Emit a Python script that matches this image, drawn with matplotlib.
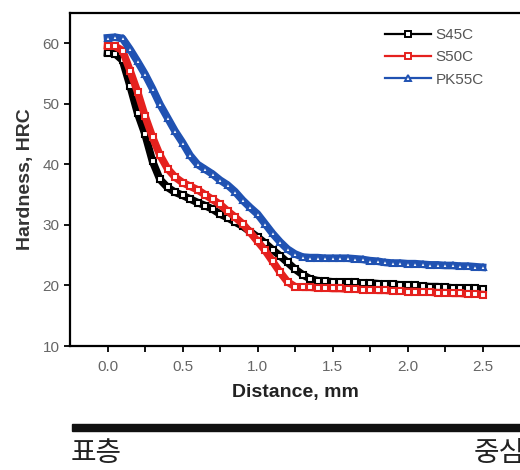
import matplotlib
matplotlib.use("Agg")
import matplotlib.pyplot as plt
from matplotlib.patches import Rectangle

plt.rcParams['font.family'] = ['Liberation Sans', 'DejaVu Sans']

# distance from surface, mm
distance = [0.00, 0.05, 0.10, 0.15, 0.20, 0.25, 0.30, 0.35, 0.40, 0.45,
            0.50, 0.55, 0.60, 0.65, 0.70, 0.75, 0.80, 0.85, 0.90, 0.95,
            1.00, 1.05, 1.10, 1.15, 1.20, 1.25, 1.30, 1.35, 1.40, 1.45,
            1.50, 1.55, 1.60, 1.65, 1.70, 1.75, 1.80, 1.85, 1.90, 1.95,
            2.00, 2.05, 2.10, 2.15, 2.20, 2.25, 2.30, 2.35, 2.40, 2.45, 2.50]

s45c = [58.4, 58.3, 57.2, 53.0, 48.5, 45.0, 40.5, 37.5, 36.2, 35.4,
        34.9, 34.3, 33.7, 33.2, 32.6, 31.8, 31.2, 30.5, 29.8, 28.9,
        28.0, 27.0, 25.9, 24.9, 23.8, 22.7, 21.8, 21.1, 20.8, 20.7,
        20.6, 20.6, 20.5, 20.5, 20.4, 20.4, 20.3, 20.2, 20.2, 20.1,
        20.0, 20.0, 19.9, 19.8, 19.8, 19.7, 19.6, 19.6, 19.5, 19.5, 19.4]

s50c = [59.6, 59.5, 58.8, 55.5, 52.0, 48.0, 44.5, 41.5, 39.3, 37.9,
        37.0, 36.4, 35.8, 35.0, 34.2, 33.4, 32.3, 31.3, 30.2, 28.8,
        27.3, 25.8, 24.0, 22.2, 20.6, 19.8, 19.7, 19.7, 19.6, 19.6,
        19.5, 19.5, 19.4, 19.4, 19.3, 19.3, 19.2, 19.2, 19.1, 19.1,
        19.0, 19.0, 18.9, 18.9, 18.8, 18.8, 18.7, 18.7, 18.6, 18.6, 18.5]

pk55c = [60.9, 61.0, 60.8, 59.0, 57.0, 54.9, 52.5, 49.9, 47.7, 45.5,
         43.6, 41.5, 40.0, 39.2, 38.4, 37.4, 36.6, 35.5, 34.1, 32.9,
         31.8, 30.2, 28.6, 27.2, 26.0, 25.2, 24.7, 24.6, 24.6, 24.5,
         24.5, 24.5, 24.5, 24.4, 24.3, 24.1, 24.0, 23.8, 23.7, 23.7,
         23.6, 23.6, 23.5, 23.4, 23.4, 23.3, 23.3, 23.2, 23.2, 23.1, 23.0]

series = [("S45C", s45c, "black", "s"),
          ("S50C", s50c, "#e5211e", "s"),
          ("PK55C", pk55c, "#2052b2", "^")]

fig = plt.figure(figsize=(5.2, 4.7), dpi=100)
ax = fig.add_axes([70 / 520, 1 - 346 / 470, 450 / 520, 333 / 470])

for name, vals, col, mk in series:
    ax.plot(distance, vals, color=col, lw=5.5, marker=mk, ms=4,
            mfc="white", mec=col, mew=1.5, label=name)

ax.set_xlim(-0.25, 2.75)
ax.set_ylim(10, 65)
ax.set_xticks([0.0, 0.5, 1.0, 1.5, 2.0, 2.5])
ax.set_xticks([0.25, 0.75, 1.25, 1.75, 2.25], minor=True)
ax.set_yticks([10, 20, 30, 40, 50, 60])
ax.tick_params(axis='both', which='both', direction='out', length=4,
               width=1.3, labelsize=11, labelcolor='#666666')
ax.tick_params(axis='x', pad=6)
ax.spines['right'].set_visible(False)
for s in ['left', 'bottom', 'top']:
    ax.spines[s].set_linewidth(1.6)

ax.set_xlabel("Distance, mm", fontsize=14, fontweight='bold',
              color='#222222', labelpad=7)
ax.set_ylabel("Hardness, HRC", fontsize=14, fontweight='bold',
              color='#333333', labelpad=6)

leg = ax.legend(loc='upper left', bbox_to_anchor=(0.70, 0.955),
                frameon=False, fontsize=11, handlelength=3.0,
                handletextpad=0.3, labelspacing=0.55, borderpad=0,
                borderaxespad=0)
for t in leg.get_texts():
    t.set_color('#555555')
for h in leg.get_lines():
    h.set_linewidth(1.6)
    h.set_markersize(5)
    h.set_markeredgewidth(1.4)

# surface -> core bar
fig.add_artist(Rectangle((72 / 520, 1 - 431 / 470), 448 / 520, 7 / 470,
                         transform=fig.transFigure, color='#111111'))
fig.text(71 / 520, 1 - 453 / 470, "표층", fontsize=20, va='center',
         ha='left', family=['Noto Sans CJK KR'], color='#222222')
fig.text(474 / 520, 1 - 453 / 470, "중심", fontsize=20, va='center',
         ha='left', family=['Noto Sans CJK KR'], color='#222222')

fig.savefig("out.png", dpi=100)
